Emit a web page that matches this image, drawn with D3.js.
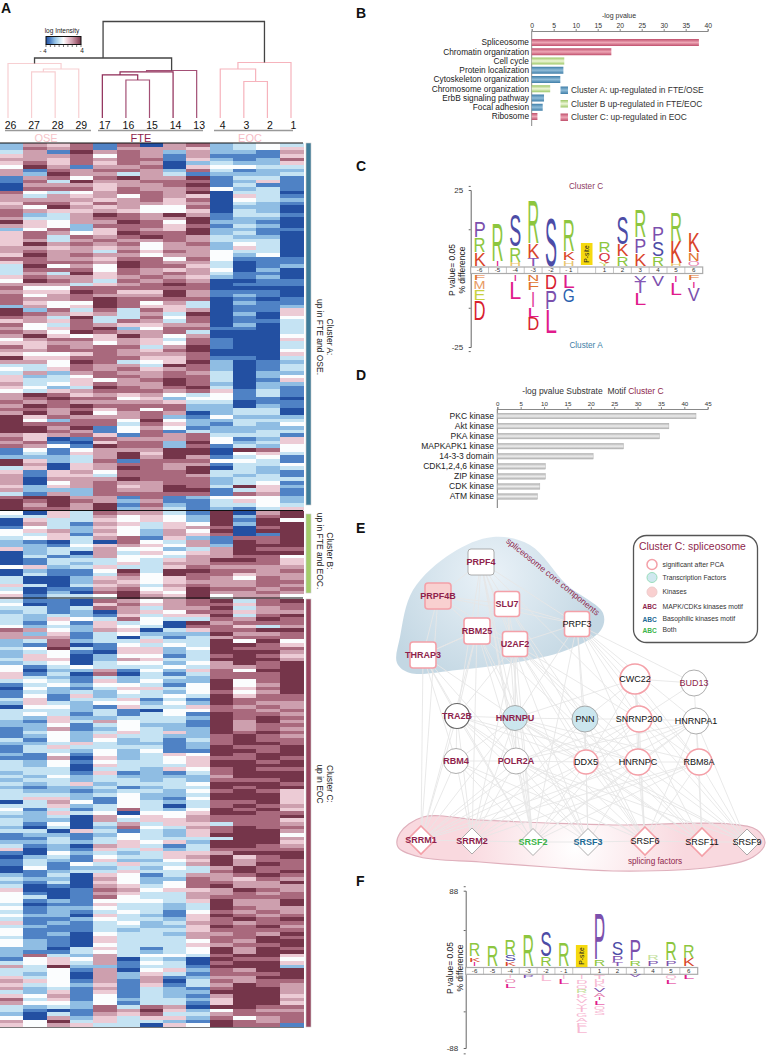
<!DOCTYPE html>
<html><head><meta charset="utf-8">
<script src="https://cdn.jsdelivr.net/npm/d3@7"></script>
<style>
html,body{margin:0;padding:0;background:#fff}
svg{display:block}
text{font-family:"Liberation Sans",Arial,sans-serif}
</style></head><body>
<svg id="c" width="766" height="1055"></svg>
<script>
// ---------- Panel A data ----------
const sampleLabels=["26","27","28","29","17","16","15","14","13","4","3","2","1"];
const groupLabels=["OSE","FTE","EOC"];
const clusterTitles=[["Cluster A:","up in FTE and OSE."],["Cluster B:","up in FTE and EOC."],["Cluster C:","up in EOC"]];
// digit 0 = -4 (deep blue), 4 = 0 (white), 8 = +4 (dark red); grouped OSE | FTE | EOC
const heatA=["2657 17067 2343","2767 16665 2345","3618 67626 2216","5667 47616 1115","6657 67715 2127","5757 57602 3225","4861 66705 4433","6176 77627 3122","6286 63631 2223","1674 78668 1331","1738 66777 1251","0666 56678 1311","0777 57667 4231","7434 67768 0330","6365 64765 0531","6666 56757 0432","5775 76656 0321","6486 56447 0220","7655 65445 0320","7236 87686 1331","6336 77668 1220","8546 68748 2210","6542 77757 1320","2472 57658 2211","5764 58778 2310","5737 67876 3220","5636 76676 3330","5867 67467 2430","6656 56466 2530","6766 37576 4330","5867 66466 4240","7766 57747 4111","5777 68766 3011","3846 48775 3012","3777 47656 4020","3638 57676 3110","5766 56765 2120","4876 37676 0011","6663 56787 0111","7447 77777 0000","6558 75586 1110","7467 66686 1210","7667 87777 0101","7544 87463 0211","2645 87553 0112","8273 73756 0115","8765 63638 0205","7638 33747 0104","5657 37637 0113","7437 65566 0203","6457 82477 1103","7648 76673 0003","6854 58646 0004","4677 56537 1005","5566 46547 1003","7576 77368 1003","6677 76578 0004","5445 76667 0005","8557 77557 1103","6648 73458 2012","3347 66387 2013","4357 67567 2013","3626 76676 3022","5234 77677 3024","5335 46787 3015","6345 76687 2022","5423 87678 3021","4356 77767 5131","6875 65643 4131","6787 74524 4110","7676 66653 3011","6878 77772 2021","7767 57472 2330","6868 46760 2330","8576 66721 4222","8427 74842 2333","8777 73752 1324","8868 14641 2222","8876 14713 2233","6567 51767 3331","7501 76667 4125","6710 57728 4235","7641 87727 1324","1414 66688 0874","1315 68588 0453","2223 68686 1341","8523 71777 4431","8605 67766 1334","3505 68768 0323","5156 47778 3321","6155 37776 3231","6066 68777 2333","6046 76677 2341","5256 75687 3852","6222 76688 1351","3162 77777 1761","7886 61712 4442","8787 62611 3542","8686 81721 3343","8776 82631 2135"];
const heatB=["4053 76631 8068","3353 64542 8278","0533 54542 8184","0631 65354 8288","1432 54356 7078","4562 64264 8088","4351 54265 7018","3453 67152 1778","2103 07436 1878","2214 56546 2888","5233 64423 6877","0230 63545 6888","0312 64436 6774","0133 34356 8875","0132 35366 7775","4523 53357 6666","0211 48388 7767","0311 37487 7566","3002 56457 6476","3002 65456 6677","5303 56367 6676","3011 67458 7767","4020 78548 6676","5133 48658 4664"];
const heatC=["3110 76467 8378","4010 57567 7577","3313 76366 8367","2312 06547 7566","3232 15355 8378","3254 37433 7687","3141 53408 6777","4232 54307 7536","7642 65035 7788","6251 34222 8667","6661 30313 6777","2372 33533 8484","2170 14343 8875","3483 15524 8777","2341 05523 8886","2540 24413 7875","3550 26533 8886","2340 34424 6878","4134 33343 6678","4022 61425 7488","5130 70313 7778","5321 32332 7778","3431 52422 8478","1342 44314 8468","0421 35534 8578","1323 24324 7468","1415 23343 8577","3513 35131 8777","2532 44242 8766","0442 15335 7676","3332 31044 7767","3431 31341 8776","3252 23332 8787","2153 64331 8686","2241 34221 8677","1261 24322 8676","1342 35352 8787","1242 53322 7876","3142 42313 7877","2235 32212 7887","1353 33312 8778","1332 42411 8878","2141 42354 8788","1160 52345 7787","3241 43345 8878","3240 53335 8888","3330 33254 7877",
"2331 51213 7888","3242 32222 6888","2332 33232 7778","3235 23334 8887","2122 31233 8788","3221 23324 7875","3332 34223 8885","3552 14214 8885","0364 14323 7785","3352 34303 7876","4131 37324 8785","3253 40445 8877","2230 64546 7778","3220 63556 7775","3140 36355 3776","2030 27436 7877","3305 31325 7886","1221 24325 8884","1131 34333 3886","2232 35452 8885","3120 65313 8876","5021 53523 7777","1042 32355 6888","0231 43356 8578","1321 52245 8677","1314 35336 8687","0412 23243 6877","0123 35333 7878","2130 54136 6787","3220 64227 6576","2130 54247 7668","3010 65347 8666","5001 76455 6876","4101 65336 6767","4301 74336 7777","4121 44435 8668","3011 53323 8668","4122 43323 8766","3121 34314 7676","4220 53215 8767","3112 43325 7878","5121 34236 7677","3211 33225 8786","4111 32335 7777","4120 43326 6768","3110 53336 7787","4210 53334 7688","4210 43335 6778","2203 53134 8687","2113 43234 8688","2732 63443 7885","1454 60320 8774","3453 61430 7885","6382 21331 8882","3341 60452 7688","3240 62531 7778","5340 62612 6688","6541 61603 7677","5342 51513 6876","6231 61321 7886","3251 51322 8886","5461 41321 6885","7351 42332 5886","6442 41331 5885","3232 73760 8877","3101 76852 4766","2031 65733 6777","4062 53552 7467","6483 53321 8767","5465 33054 8771"];
const clusterSizes=[heatA,heatB,heatC];
const scaleStops=["#2350a2","#4f82c5","#8fbde3","#c5e3f3","#fbfdfe","#eccbd5","#cd9fae","#a9697d","#75354a"];
// ---------- Panel B data ----------
const termNames=["Spliceosome","Chromatin organization","Cell cycle","Protein localization","Cytoskeleton organization","Chromosome organization","ErbB signaling pathway","Focal adhesion","Ribosome"];
const termValues=[38,18.1,7.4,7.2,6.5,4.2,2.8,2.5,1.3];
const termCluster=["C","C","B","A","A","B","A","A","C"];
const clusterLegend=[["A","Cluster A: up-regulated in FTE/OSE"],["B","Cluster B up-regulated in FTE/EOC"],["C","Cluster C: up-regulated in EOC"]];
// ---------- Panel D data ----------
const kinaseNames=["PKC kinase","Akt kinase","PKA kinase","MAPKAPK1 kinase","14-3-3 domain ","CDK1,2,4,6 kinase","ZIP kinase","CDK kinase","ATM kinase"];
const kinaseValues=[42.5,36.7,34.7,27,20.5,10.3,10.3,9.1,8.6];
// ---------- Logo data ----------
const logoPositions=["-6","-5","-4","-3","-2","- 1","","1","2","3","4","5","6"];
const logoCUp=[[["K",4.1],["R",4.6],["P",4.8]],[["I",1.4],["R",12.1]],[["H",1.1],["R",4.6],["S",10.1]],[["T",2.3],["K",4.4],["R",13.8]],[["S",15.2]],[["H",1.6],["K",2.6],["R",9.8]],[],[["Y",1.3],["Q",2.4],["R",3.2]],[["R",2.8],["K",3.6],["S",8.5]],[["K",3.8],["P",4.7],["R",8.7]],[["R",2.8],["S",4.5],["P",4.5]],[["H",0.6],["K",6.8],["R",8.9]],[["O",1.4],["N",2.4],["K",6.3]]];
const logoCDown=[[["F",1.6],["M",2.4],["E",3.3],["D",6]],[],[["I",2],["L",5.2]],[["N",1.9],["F",2.4],["I",5.1],["L",3],["D",4]],[["D",4.6],["P",5.8],["L",7.4]],[["L",4.2],["G",4.2]],[],[],[],[["V",1.8],["T",3.6],["L",3.5]],[["V",3.4]],[["I",2.2],["L",3.7]],[["F",1.6],["I",2.1],["V",4]]];
const logoFUp=[[["I",3.7],["K",4.9],["R",13.9]],[["R",23.6]],[["K",4.1],["S",6.4],["R",18]],[["R",34.8]],[["R",9.7],["S",27.3]],[["R",26.2]],[],[["R",6.7],["P",50.2]],[["T",3.7],["P",6.4],["S",15]],[["R",5.6],["P",22.5]],[["P",5.6],["R",5.6,1]],[["P",5.6],["R",20.2]],[["K",8.2],["R",14.2]]];
const logoFDown=[[],[],[["I",3,1],["O",4.5],["L",3.7]],[["P",2.6]],[["L",6.7,1]],[["I",3.7,1],["L",5.2]],[["I",4,1],["D",4.2,1],["Q",4.2,1],["R",4.2,1],["K",4.2,1],["V",4.2,1],["Y",4.2,1],["T",4.2,1],["G",4.2,1],["A",4.2,1],["E",4.2,1],["L",6.5,1]],[["T",3.7,1],["H",3.7,1],["K",3.7,1],["V",4.5],["A",3.7],["I",3],["L",4.5],["Q",3.7,1],["S",4.5,1]],[],[["V",2.2]],[],[["Q",4.1,1],["L",4.5]],[["L",4.1]]];
const letterColors={R:"#8dc63f",K:"#d9442a",S:"#4c4ca6",P:"#7b50ad",T:"#8758b5",L:"#e01b8c",I:"#e01b8c",D:"#d8202f",E:"#c9d13f",M:"#e89a62",F:"#e0742f",N:"#e0742f",G:"#2a5fae",H:"#e9c46a",Q:"#d8303a",Y:"#c9d75f",V:"#7b50ad",O:"#e57fb0",A:"#e57fb0"};
// ---------- Panel E data ----------
const geneStyle={crimsonBold:["THRAP3","PRPF4","PRPF4B","SLU7","RBM25","U2AF2","TRA2B","HNRNPU","RBM4","POLR2A","SRRM1","SRRM2"],crimson:["BUD13"],green:["SRSF2"],blue:["SRSF3"]};
const squareNodes=["PRPF4","PRPF4B","SLU7","RBM25","U2AF2","PRPF3","THRAP3"];
const circleNodes=["CWC22","BUD13","TRA2B","HNRNPU","PNN","SNRNP200","HNRNPA1","RBM4","POLR2A","DDX5","HNRNPC","RBM8A"];
const diamondNodes=["SRRM1","SRRM2","SRSF2","SRSF3","SRSF6","SRSF11","SRSF9"];
const significant=["PRPF4B","SLU7","RBM25","U2AF2","PRPF3","THRAP3","CWC22","SNRNP200","DDX5","HNRNPC","RBM8A","SRRM1","SRSF6","SRSF11"];
const transcriptionFactors=["HNRNPU","PNN"];
const kinases=["PRPF4B"];
const edgeList=["PRPF4:HNRNPU,TRA2B,SRSF3,SNRNP200,PRPF3,SLU7,PRPF4B,U2AF2,SRSF2,POLR2A,RBM25","PRPF4B:SLU7,RBM25,PRPF3,SRRM1,THRAP3,U2AF2","SLU7:U2AF2,PRPF3,RBM25,HNRNPU,SRSF2,SRSF6,PNN","RBM25:U2AF2,THRAP3,TRA2B,SRRM1,SRRM2,HNRNPU,POLR2A,SRSF3,SRSF11","U2AF2:PRPF3,HNRNPU,PNN,SRSF2,SRSF6,SRRM2,TRA2B,DDX5,HNRNPC,SRSF9,POLR2A,SNRNP200","PRPF3:CWC22,SNRNP200,BUD13,HNRNPA1,PNN,HNRNPC,RBM8A,SRSF9,HNRNPU,SRSF2,DDX5","THRAP3:SRRM1,TRA2B,RBM4,POLR2A,HNRNPU,SRSF2,RBM25","CWC22:BUD13,SNRNP200,DDX5,HNRNPC,SRSF6,RBM8A,HNRNPU,PNN","BUD13:HNRNPA1,SNRNP200","TRA2B:HNRNPU,RBM4,SRRM1,SRRM2,SRSF2,SRSF3,SRSF6,POLR2A,DDX5,HNRNPC","HNRNPU:PNN,POLR2A,DDX5,HNRNPC,SRRM1,SRRM2,SRSF2,SRSF3,SRSF6,SRSF11,SRSF9,RBM4,RBM8A","PNN:SNRNP200,DDX5,SRSF3,SRSF6,SRRM1,SRSF11,SRRM2","SNRNP200:HNRNPA1,HNRNPC,DDX5,RBM8A,SRRM1,SRSF2,SRSF6,SRSF11,SRSF9,POLR2A","HNRNPA1:RBM8A,HNRNPC,DDX5,POLR2A,SRSF6,SRSF11,SRSF9,SRSF2,SRRM2","RBM4:POLR2A,SRRM1,SRRM2,SRSF2,SRSF3,SRSF6","POLR2A:DDX5,SRRM1,SRRM2,SRSF2,SRSF3,SRSF6,SRSF9,SRSF11","DDX5:HNRNPC,SRRM1,SRRM2,SRSF2,SRSF3,SRSF6,SRSF11,SRSF9","HNRNPC:RBM8A,SRRM1,SRSF2,SRSF3,SRSF6,SRSF9,SRSF11","RBM8A:SRSF11,SRSF6,SRSF9,SRSF2,SRRM2,SRRM1","SRRM1:SRRM2","SRRM2:SRSF2","SRSF2:SRSF3","SRSF3:SRSF6","SRSF6:SRSF11","SRSF11:SRSF9"];
// network layout (node placement has no data axis)
const nodeLayout={PRPF4:[481,562,26],PRPF4B:[438,596,26],SLU7:[507,604,25],RBM25:[477,631,26],U2AF2:[515,644,25],PRPF3:[577,624,25],THRAP3:[423,655,26],CWC22:[635,679,15],BUD13:[694,683,13],TRA2B:[457,716,12.5],HNRNPU:[515,718,12.5],PNN:[585,719,13],SNRNP200:[639,719,13],HNRNPA1:[696,721,13],RBM4:[456,761,12.5],POLR2A:[516,761,13],DDX5:[586,762,12],HNRNPC:[638,762,13],RBM8A:[699,762,13],SRRM1:[421,840,14],SRRM2:[472,841,13],SRSF2:[533,842,13.5],SRSF3:[588,842,13.5],SRSF6:[645,841,14],SRSF11:[702,842,14],SRSF9:[747,842,13]};
const blobTop=[[493,537],[530,545],[567,585],[603,613],[601,630],[567,650],[513,663],[457,670],[410,673],[397,663],[400,637],[413,590],[452,553]];
const blobBottom=[[423,817],[480,820],[547,823],[613,825],[730,824],[757,830],[765,843],[753,857],[713,867],[613,871],[547,867],[480,862],[420,857],[398,847],[400,833]];
const netLegendMarks=[["significant after PCA","#fff","#f4a0a8"],["Transcription Factors","#cfe8ef","#9db"],["Kinases","#f9d0d0","#ecc"]];
const netLegendMotif=[["MAPK/CDKs kinases motif","#8e1f4c"],["Basophilic kinases motif","#1d6a94"],["Both","#3cb44a"]];
// dendrogram: merge height (0-100) + children; leaf = label
const dendroTree={h:100,col:"#444",w:1.3,kids:[
 {h:62.2,col:"#444",w:1.3,kids:[
  {h:56.5,col:"#f7cfd2",kids:["26",{h:50.8,col:"#f7cfd2",kids:[{h:47.7,col:"#f7cfd2",kids:["27","28"]},"29"]}]},
  {h:49.2,col:"#a34f75",kids:[{h:47.7,col:"#8e2a56",kids:[{h:44.6,col:"#8e2a56",kids:["17",{h:39.4,col:"#a34f75",kids:["16","15"]}]},"14"]},"13"]}
 ]},
 {h:57.5,col:"#f6b3bc",kids:[{h:50.8,col:"#f6b3bc",kids:["4",{h:37.8,col:"#f6b3bc",kids:["3","2"]}]},"1"]}
]};

// ---------- helpers ----------
const svg=d3.select("#c"), defs=svg.append("defs");
const T=(x,y,s,o={})=>{const t=svg.append("text").attr("x",x).attr("y",y).text(s).attr("font-size",o.fs||8).attr("fill",o.c||"#222").attr("text-anchor",o.a||"start");
 if(o.b)t.attr("font-weight","bold"); if(o.r!=null)t.attr("transform",`rotate(${o.r} ${x} ${y})`); return t;};
function barGrad(id,edge,mid){const g=defs.append("linearGradient").attr("id",id).attr("x1",0).attr("x2",0).attr("y1",0).attr("y2",1);
 [[0,edge],[.5,mid],[1,edge]].forEach(([o,c])=>g.append("stop").attr("offset",o).attr("stop-color",c));}
barGrad("gA","#3f7ea8","#8fbcd8");barGrad("gB","#9cc765","#eef6d8");barGrad("gC","#c04f6c","#eda6b5");barGrad("gK","#b0b0b0","#ededed");
const panelLetters=[["A",1,13],["B",356,18],["C",356,171],["D",356,380],["E",356,533],["F",356,886]];
panelLetters.forEach(([l,x,y])=>T(x,y,l,{fs:14,b:1,c:"#111"}));

// ---------- Panel A: dendrogram ----------
const leafX=d3.scalePoint().domain(sampleLabels).range([8,291]);
const dendroY=d3.scaleLinear().domain([0,100]).range([118,21.5]);
const dg=svg.append("g").attr("fill","none");
function walk(n){ if(typeof n==="string") return {x:leafX(n),h:0};
 const a=walk(n.kids[0]),b=walk(n.kids[1]);
 const p=d3.path(); p.moveTo(a.x,dendroY(a.h));p.lineTo(a.x,dendroY(n.h));p.lineTo(b.x,dendroY(n.h));p.lineTo(b.x,dendroY(b.h));
 dg.append("path").attr("d",p).attr("stroke",n.col).attr("stroke-width",n.w||1.2);
 return {x:(a.x+b.x)/2,h:n.h};}
walk(dendroTree);
sampleLabels.forEach(s=>T(leafX(s)+2.5,129,s,{fs:10.5,a:"middle",c:"#111"}));
[[5,91,"#999"],[98,203,"#999"],[214,293,"#999"]].forEach(([a,b,c])=>svg.append("line").attr("x1",a).attr("x2",b).attr("y1",130.5).attr("y2",130.5).attr("stroke",c).attr("stroke-width",1.5));
T(46,142,groupLabels[0],{fs:11,a:"middle",c:"#f6c4c9"});T(141,142,groupLabels[1],{fs:11,a:"middle",c:"#8e1f4c"});T(250,142,groupLabels[2],{fs:11,a:"middle",c:"#f6bcc5"});
// colour key
const hmColor=d3.scaleLinear().domain(d3.range(9)).range(scaleStops);
const keyG=defs.append("linearGradient").attr("id","gKey");
scaleStops.forEach((c,i)=>keyG.append("stop").attr("offset",i/8).attr("stop-color",c));
svg.append("rect").attr("x",46).attr("y",36.5).attr("width",35).attr("height",8).attr("fill","url(#gKey)").attr("stroke","#111").attr("stroke-width",1);
const keyX=d3.scaleLinear().domain([-4,4]).range([46,81]);
svg.append("g").attr("stroke","#222").attr("stroke-width",.6).selectAll("line").data(d3.range(-4,5)).join("line").attr("x1",d=>keyX(d)).attr("x2",d=>keyX(d)).attr("y1",44.5).attr("y2",47);
T(62,33,"log Intensity",{fs:6.5,a:"middle"});T(43,53,"- 4",{fs:6,a:"middle"});T(82,53,"4",{fs:6.5,a:"middle"});
// heatmap
const colX=d3.scaleBand().domain(d3.range(13)).range([0,303]);
const clusterBands=[[143,510.5],[511,598],[599,1027]];
const hm=svg.append("g").attr("shape-rendering","crispEdges");
clusterSizes.forEach((rows,k)=>{
 const y=d3.scaleBand().domain(d3.range(rows.length)).range(clusterBands[k]);
 rows.forEach((r,i)=>{const cells=r.replace(/ /g,"").split("").map(Number);
  hm.selectAll(null).data(cells).join("rect").attr("x",(d,j)=>colX(j)).attr("y",y(i)).attr("width",colX.bandwidth()+.5).attr("height",y.bandwidth()+.5).attr("fill",d=>hmColor(d));});
});
[[143,0,303],[510.5,0,303],[598,0,303],[1027.5,0,303]].forEach(([y,a,b],i)=>svg.append("line").attr("x1",a).attr("x2",b).attr("y1",y).attr("y2",y).attr("stroke",i==3?"#777":"#111").attr("stroke-width",i==3?1.2:1));
[[143,505,"#3f7c99"],[514,593,"#a3cc6a"],[599,1027,"#97455f"]].forEach(([a,b,c])=>svg.append("rect").attr("x",306).attr("y",a).attr("width",5).attr("height",b-a).attr("fill",c).attr("stroke","#ccc").attr("stroke-width",.6));
const clusterMid=[337,551,784];
clusterTitles.forEach((t,i)=>{T(327,clusterMid[i],t[0],{fs:8.5,a:"middle",r:90});T(317,clusterMid[i],t[1],{fs:8.5,a:"middle",r:90});});

// ---------- Panel B ----------
const xB=d3.scaleLinear().domain([0,40]).range([531.7,707.7]);
const yB=d3.scalePoint().domain(termNames).range([42.5,116.5]);
const axB=svg.append("g").attr("transform","translate(0,31)").call(d3.axisTop(xB).tickValues(d3.range(0,41,5)).tickSize(2).tickPadding(1));
axB.select(".domain").attr("stroke","#888");axB.selectAll("line").attr("stroke","#888");axB.selectAll("text").attr("font-size",6.8).attr("fill","#333").attr("font-family","Liberation Sans");
svg.append("line").attr("x1",xB(0)).attr("x2",xB(0)).attr("y1",31).attr("y2",126).attr("stroke","#888");
T(619,18,"-log pvalue",{fs:7,a:"middle",c:"#333"});
svg.selectAll(".tb").data(termNames).join("rect").attr("x",xB(0)).attr("y",d=>yB(d)-3.5).attr("height",7).attr("width",(d,i)=>xB(termValues[i])-xB(0)).attr("fill",(d,i)=>`url(#g${termCluster[i]})`);
termNames.forEach(n=>T(529,yB(n)+2.8,n,{fs:8.3,a:"end",c:"#222"}));
clusterLegend.forEach(([k,t],i)=>{const y=90+i*13.5;svg.append("rect").attr("x",560.5).attr("y",y-3.5).attr("width",7.5).attr("height",7.5).attr("fill",`url(#g${k})`);T(571,y+3,t,{fs:8.4,c:"#333"});});

// ---------- Panel D ----------
const xD=d3.scaleLinear().domain([0,45]).range([497.3,707.7]);
const yD=d3.scalePoint().domain(kinaseNames).range([416,496.5]);
const axD=svg.append("g").attr("transform","translate(0,409)").call(d3.axisTop(xD).tickValues(d3.range(0,46,5)).tickSize(2).tickPadding(1));
axD.select(".domain").attr("stroke","#888");axD.selectAll("line").attr("stroke","#888");axD.selectAll("text").attr("font-size",6.2).attr("fill","#333").attr("font-family","Liberation Sans");
svg.append("line").attr("x1",xD(0)).attr("x2",xD(0)).attr("y1",409).attr("y2",508).attr("stroke","#777");
const tD=T(593,394,"",{fs:8.5,a:"middle",c:"#333"});
tD.append("tspan").text("-log pvalue Substrate\u00a0\u00a0Motif ");tD.append("tspan").text("Cluster C").attr("fill","#8e1f4c");
svg.selectAll(".kb").data(kinaseNames).join("rect").attr("x",xD(0)).attr("y",d=>yD(d)-2.8).attr("height",5.6).attr("width",(d,i)=>xD(kinaseValues[i])-xD(0)).attr("fill","url(#gK)").attr("stroke","#aaa").attr("stroke-width",.4);
kinaseNames.forEach(n=>T(494,yD(n)+2.9,n,{fs:8.5,a:"end",c:"#222"}));

// ---------- Logos ----------
const mctx=document.createElement("canvas").getContext("2d");mctx.font='10px "Liberation Sans"';
function drawLogo(o){
 const x=d3.scaleBand().domain(logoPositions).range([o.x0,o.x1]);
 const y=d3.scaleLinear().domain(o.dom).range(o.rng);
 const ax=svg.append("g").attr("transform",`translate(${o.x0},0)`).call(d3.axisLeft(y).tickValues(o.ticks).tickSize(2).tickFormat(""));
 ax.select(".domain").attr("stroke","#666");ax.selectAll("line").attr("stroke","#666");
 o.labels.forEach(v=>T(o.x0-7.5,y(v)+2.8,String(v),{fs:8,a:"end",c:"#333"}));
 T(o.pvX,o.midY,"P value= 0.05",{fs:8.5,a:"middle",r:-90,c:"#222"});
 T(o.pctX,o.midY,"% difference",{fs:8.5,a:"middle",r:-90,c:"#222"});
 const s=svg.append("g");
 s.append("rect").attr("x",o.x0).attr("y",o.s0).attr("width",o.x1-o.x0).attr("height",o.s1-o.s0).attr("fill","#fff").attr("stroke","#aaa").attr("stroke-width",1.2);
 logoPositions.forEach((p,i)=>{ if(i)s.append("line").attr("x1",x(p)).attr("x2",x(p)).attr("y1",o.s0).attr("y2",o.s1).attr("stroke","#aaa").attr("stroke-width",.7);
   s.append("text").attr("x",x(p)+x.bandwidth()/2).attr("y",(o.s0+o.s1)/2+2.2).attr("text-anchor","middle").attr("font-size",6.2).attr("fill","#333").text(p);});
 const zero=y(0);
 const letter=(g,cx,yBottom,h,w,pale)=>{
  const adv=mctx.measureText(g).width||7;
  const tw=g==="I"?w*.22:w;
  const glyphW=g==="I"?2.0:adv;
  svg.append("text").text(g).attr("text-anchor","middle").attr("font-size",10).attr("fill",pale?(g==="R"?"#c3e09a":"#f7b9d3"):letterColors[g]||"#888")
   .attr("transform",`translate(${cx},${yBottom}) scale(${tw/glyphW},${h/7.0})`);
 };
 logoPositions.forEach((p,i)=>{
  const cx=x(p)+x.bandwidth()/2;
  let yy=o.upBase;
  o.up[i].forEach(([g,v,pale])=>{const h=Math.abs(y(v)-zero);letter(g,cx,yy,h,o.w,pale);yy-=h+1;});
  yy=o.downBase;
  o.down[i].forEach(([g,v,pale])=>{const h=Math.abs(y(v)-zero);letter(g,cx,yy+h,h,o.w,pale);yy+=h+1;});
 });
 const sc=x(""), sw=x.bandwidth();
 svg.append("rect").attr("x",sc+sw/2-5.8).attr("y",o.siteTop).attr("width",11.6).attr("height",o.siteH).attr("fill","#f5d90f");
 T(sc+sw/2+2.3,o.siteTop+o.siteH/2,"P-site",{fs:6.8,a:"middle",r:-90,c:"#222"});
}
drawLogo({x0:470.7,x1:702.7,dom:[-25,25],rng:[347,190],ticks:[26.3,12.5,-12.5,-26.3],labels:[25,-25],midY:270,pvX:455,pctX:465,s0:267,s1:273.5,up:logoCUp,down:logoCDown,upBase:266,downBase:275,w:12,siteTop:243,siteH:22});
T(586,189,"Cluster C",{fs:8.2,a:"middle",c:"#8e3a5e"});T(586,348,"Cluster A",{fs:8.2,a:"middle",c:"#3d7ea6"});
drawLogo({x0:465.7,x1:697.7,dom:[-88,88],rng:[1048,890.7],ticks:[93,44,-47,-94],labels:[88,-88],midY:968,pvX:452.7,pctX:463,s0:967.5,s1:974.3,up:logoFUp,down:logoFDown,upBase:966,downBase:975.5,w:11.5,siteTop:945,siteH:22});

// ---------- Panel E ----------
const rgTop=defs.append("radialGradient").attr("id","gTop").attr("gradientUnits","userSpaceOnUse").attr("cx",490).attr("cy",575).attr("r",115);
rgTop.append("stop").attr("offset",0).attr("stop-color","#eaf2f8");rgTop.append("stop").attr("offset",1).attr("stop-color","#c3d7e3");
const rgBot=defs.append("radialGradient").attr("id","gBot").attr("gradientUnits","userSpaceOnUse").attr("cx",575).attr("cy",848).attr("r",110);
rgBot.append("stop").attr("offset",0).attr("stop-color","#ffffff");rgBot.append("stop").attr("offset",1).attr("stop-color","#f9d9df");
const blob=d3.line().curve(d3.curveCatmullRomClosed.alpha(.5));
svg.append("path").attr("d",blob(blobTop)).attr("fill","url(#gTop)");
svg.append("path").attr("d",blob(blobBottom)).attr("fill","url(#gBot)").attr("stroke","#dfb0bc").attr("stroke-width",1.2);
const edges=edgeList.flatMap(e=>{const [a,b]=e.split(":");return b.split(",").map(t=>[a,t]);});
svg.append("g").attr("stroke","#e6e6e6").attr("stroke-width",.9).selectAll("line").data(edges).join("line")
 .attr("x1",d=>nodeLayout[d[0]][0]).attr("y1",d=>nodeLayout[d[0]][1]).attr("x2",d=>nodeLayout[d[1]][0]).attr("y2",d=>nodeLayout[d[1]][1]);
const nodeStroke=n=>significant.includes(n)?"#f4a0a8":(n==="TRA2B"?"#666":"#999");
const nodeSW=n=>significant.includes(n)?1.6:(n==="TRA2B"?1.2:.8);
const nodeFill=n=>kinases.includes(n)?"#f9d0d0":transcriptionFactors.includes(n)?"#cbe6ee":"#fff";
svg.selectAll(".sq").data(squareNodes).join("rect").attr("x",d=>nodeLayout[d][0]-nodeLayout[d][2]/2).attr("y",d=>nodeLayout[d][1]-nodeLayout[d][2]/2).attr("width",d=>nodeLayout[d][2]).attr("height",d=>nodeLayout[d][2]).attr("rx",3).attr("fill",nodeFill).attr("stroke",nodeStroke).attr("stroke-width",nodeSW);
svg.selectAll(".ci").data(circleNodes).join("circle").attr("cx",d=>nodeLayout[d][0]).attr("cy",d=>nodeLayout[d][1]).attr("r",d=>nodeLayout[d][2]).attr("fill",nodeFill).attr("stroke",nodeStroke).attr("stroke-width",nodeSW);
svg.selectAll(".di").data(diamondNodes).join("path").attr("d",d=>{const [x,y,r]=nodeLayout[d];return `M${x} ${y-r}L${x+r} ${y}L${x} ${y+r}L${x-r} ${y}Z`;}).attr("fill",nodeFill).attr("stroke",nodeStroke).attr("stroke-width",nodeSW);
[...squareNodes,...circleNodes,...diamondNodes].forEach(n=>{
 const o={a:"middle",fs:9,c:"#111"};
 if(geneStyle.crimsonBold.includes(n)){o.c="#8e1f4c";o.b=1;}
 if(geneStyle.crimson.includes(n)){o.c="#8e1f4c";}
 if(geneStyle.green.includes(n)){o.c="#3cb44a";o.b=1;}
 if(geneStyle.blue.includes(n)){o.c="#1d6a94";o.b=1;}
 T(nodeLayout[n][0],nodeLayout[n][1]+3,n,o);
});
T(551,579,"spliceosome core components",{fs:8.7,a:"middle",r:39,c:"#8e1f4c"});
T(655,864,"splicing factors",{fs:8.2,a:"middle",c:"#8e1f4c"});
// legend
svg.append("rect").attr("x",633.5).attr("y",535.5).attr("width",124).attr("height",107).attr("rx",13).attr("fill","#fff").attr("stroke","#555").attr("stroke-width",1.3);
T(639,550,"Cluster C: spliceosome",{fs:10.4,c:"#8e1f4c"});
netLegendMarks.forEach(([t,f,s],i)=>{const y=[564.5,577.5,592][i];svg.append("circle").attr("cx",652).attr("cy",y).attr("r",5).attr("fill",f).attr("stroke",s).attr("stroke-width",i?1:1.5);T(662.5,y+2,t,{fs:6.8,c:"#333"});});
netLegendMotif.forEach(([t,c],i)=>{const y=[609,621.5,632.5][i];T(642.5,y,"ABC",{fs:6.6,b:1,c});T(662.5,y-.5,t,{fs:6.8,c:"#333"});});
</script>
</body></html>
